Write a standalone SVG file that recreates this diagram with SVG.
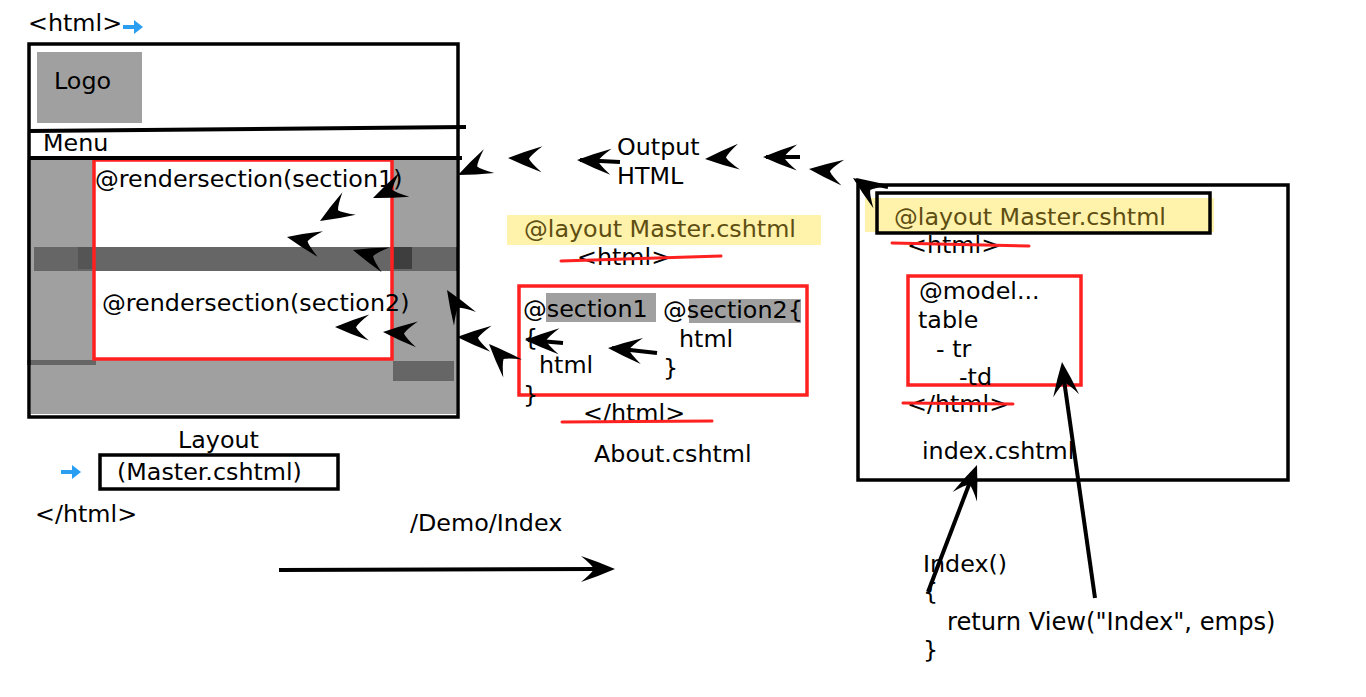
<svg xmlns="http://www.w3.org/2000/svg" xmlns:xlink="http://www.w3.org/1999/xlink" width="1366" height="697" viewBox="0 0 1366 697">
<style>
.t{font-family:"DejaVu Sans",Verdana,sans-serif;font-size:23.8px;fill:#000}
.ly{fill:#5e4e12}
.box{fill:none;stroke:#000;stroke-width:3.5}
.red{fill:none;stroke:#ff2020;stroke-width:3.5}
.strike{stroke:#ff2020;stroke-width:3;stroke-linecap:round;fill:none}
.ln{stroke:#000;stroke-width:4;fill:none}
.blue{fill:#2a9ff2}
</style>
<defs>
<path id="ah" d="M0,0 Q16,-7 34,-13 Q23,-4 21,0 Q23,4 34,13 Q16,7 0,0 Z" fill="#000"/>
<g id="blueArrow"><rect x="0" y="-2" width="13" height="4" class="blue"/><path d="M11,-7 L20,0 L11,7 Z" class="blue"/></g>
</defs>
<rect width="1366" height="697" fill="#fff"/>

<g id="master">
<text class="t" x="28" y="31">&lt;html&gt;</text>
<use xlink:href="#blueArrow" href="#blueArrow" transform="translate(123,27)"/>
<rect x="29" y="44" width="429" height="373" fill="#fff"/>
<rect x="37" y="52" width="105" height="71" fill="#a0a0a0"/>
<text class="t" x="54" y="89">Logo</text>
<text class="t" x="43" y="151">Menu</text>
<rect x="31" y="160" width="425" height="254" fill="#a0a0a0"/>
<rect x="27" y="160" width="69" height="205" fill="#a0a0a0"/>
<rect x="27" y="360" width="69" height="5" fill="#666"/>
<rect x="393" y="361" width="61" height="20" fill="#666"/>
<rect x="94" y="160" width="298" height="199" fill="#fff"/>
<rect x="34" y="247" width="423" height="24" fill="#666"/>
<rect x="78" y="247" width="17" height="22" fill="#555"/>
<rect x="392" y="247" width="20" height="22" fill="#3e3e3e"/>
<rect x="94" y="160" width="298" height="199" class="red"/>
<text class="t" x="95" y="187">@rendersection(section1)</text>
<text class="t" x="102" y="311">@rendersection(section2)</text>
<rect x="29" y="44" width="429" height="373" class="box"/>
<path d="M29,131 L466,127" class="ln" stroke-width="3.5"/>
<path d="M29,158 L462,158" class="ln" stroke-width="3.5"/>
</g>

<g id="layout-label">
<text class="t" x="178" y="448">Layout</text>
<use xlink:href="#blueArrow" href="#blueArrow" transform="translate(61,472)"/>
<rect x="100" y="455" width="238" height="34" class="box"/>
<text class="t" x="117" y="480">(Master.cshtml)</text>
<text class="t" x="35" y="522">&lt;/html&gt;</text>
</g>

<g id="output-label">
<text class="t" x="617" y="155">Output</text>
<text class="t" x="617" y="184">HTML</text>
</g>

<g id="about">
<text class="t" x="577" y="265">&lt;html&gt;</text>
<rect x="507" y="215" width="314" height="30" fill="#fff2aa"/>
<text class="t ly" x="524" y="237">@layout Master.cshtml</text>
<path d="M561,261 L721,256" class="strike"/>
<rect x="546" y="293" width="110" height="29" fill="#a0a0a0"/>
<rect x="689" y="299" width="112" height="24" fill="#a0a0a0"/>
<rect x="519" y="286" width="288" height="109" class="red"/>
<text class="t" x="523" y="317">@section1</text>
<text class="t" x="663" y="318">@section2{</text>
<text class="t" x="523" y="346">{</text>
<text class="t" x="539" y="373">html</text>
<text class="t" x="523" y="403">}</text>
<text class="t" x="679" y="347">html</text>
<text class="t" x="663" y="376">}</text>
<text class="t" x="583" y="421">&lt;/html&gt;</text>
<path d="M562,422 L712,421" class="strike"/>
<text class="t" x="594" y="462">About.cshtml</text>
</g>

<g id="index">
<rect x="858" y="185" width="430" height="295" class="box"/>
<rect x="865" y="198" width="349" height="34" fill="#fff2aa"/>
<rect x="877" y="193" width="333" height="40" class="box"/>
<text class="t ly" x="894" y="225">@layout Master.cshtml</text>
<text class="t" x="907" y="253">&lt;html&gt;</text>
<path d="M892,243 L1029,246" class="strike"/>
<rect x="908" y="276" width="173" height="109" class="red"/>
<text class="t" x="919" y="299">@model...</text>
<text class="t" x="918" y="328">table</text>
<text class="t" x="936" y="357">- tr</text>
<text class="t" x="959" y="385">-td</text>
<text class="t" x="907" y="412">&lt;/html&gt;</text>
<path d="M903,403 L1013,404" class="strike"/>
<text class="t" x="922" y="459">index.cshtml</text>
</g>

<g id="route-label">
<text class="t" x="410" y="531">/Demo/Index</text>
</g>

<g id="controller">
<text class="t" x="923" y="572">Index()</text>
<text class="t" x="923" y="600">{</text>
<text class="t" x="947" y="630" style="font-size:24.2px">return View("Index", emps)</text>
<text class="t" x="923" y="658">}</text>
</g>

<g id="connectors">
<use href="#ah" xlink:href="#ah" transform="translate(373,198) rotate(-23)"/>
<use href="#ah" xlink:href="#ah" transform="translate(320,221) rotate(-31)"/>
<use href="#ah" xlink:href="#ah" transform="translate(287,237) rotate(12)"/>
<use href="#ah" xlink:href="#ah" transform="translate(353,250) rotate(17)"/>
<use href="#ah" xlink:href="#ah" transform="translate(335,327) rotate(1)"/>
<use href="#ah" xlink:href="#ah" transform="translate(383,332) rotate(4)"/>
<use href="#ah" xlink:href="#ah" transform="translate(458,175) rotate(-24)"/>
<use href="#ah" xlink:href="#ah" transform="translate(508,158) rotate(2)"/>
<path d="M580,160 L620,162" class="ln" stroke-width="3"/>
<use href="#ah" xlink:href="#ah" transform="translate(577,160) rotate(3)"/>
<use href="#ah" xlink:href="#ah" transform="translate(705,159) rotate(-4)"/>
<path d="M766,157 L800,157" class="ln" stroke-width="3"/>
<use href="#ah" xlink:href="#ah" transform="translate(763,157) rotate(1)"/>
<use href="#ah" xlink:href="#ah" transform="translate(809,169) rotate(6)"/>
<path d="M856,180 L888,187" class="ln" stroke-width="3"/>
<use href="#ah" xlink:href="#ah" transform="translate(853,178) rotate(35)"/>
<use href="#ah" xlink:href="#ah" transform="translate(447,290) rotate(58)"/>
<use href="#ah" xlink:href="#ah" transform="translate(457,337) rotate(3)"/>
<use href="#ah" xlink:href="#ah" transform="translate(489,344) rotate(46)"/>
<path d="M528,340 L563,343" class="ln" stroke-width="3"/>
<use href="#ah" xlink:href="#ah" transform="translate(525,340) rotate(2)"/>
<path d="M612,348 L657,353" class="ln" stroke-width="3"/>
<use href="#ah" xlink:href="#ah" transform="translate(608,348) rotate(5)"/>
<path d="M279,570 L598,569" class="ln"/>
<use href="#ah" xlink:href="#ah" transform="translate(615,569) rotate(180) scale(-1,1) rotate(180)"/>
<path d="M928,592 L970,482" class="ln"/>
<use href="#ah" xlink:href="#ah" transform="translate(977,465) rotate(111)"/>
<path d="M1095,598 L1064,380" class="ln"/>
<use href="#ah" xlink:href="#ah" transform="translate(1062,362) rotate(83)"/>
</g>
</svg>
